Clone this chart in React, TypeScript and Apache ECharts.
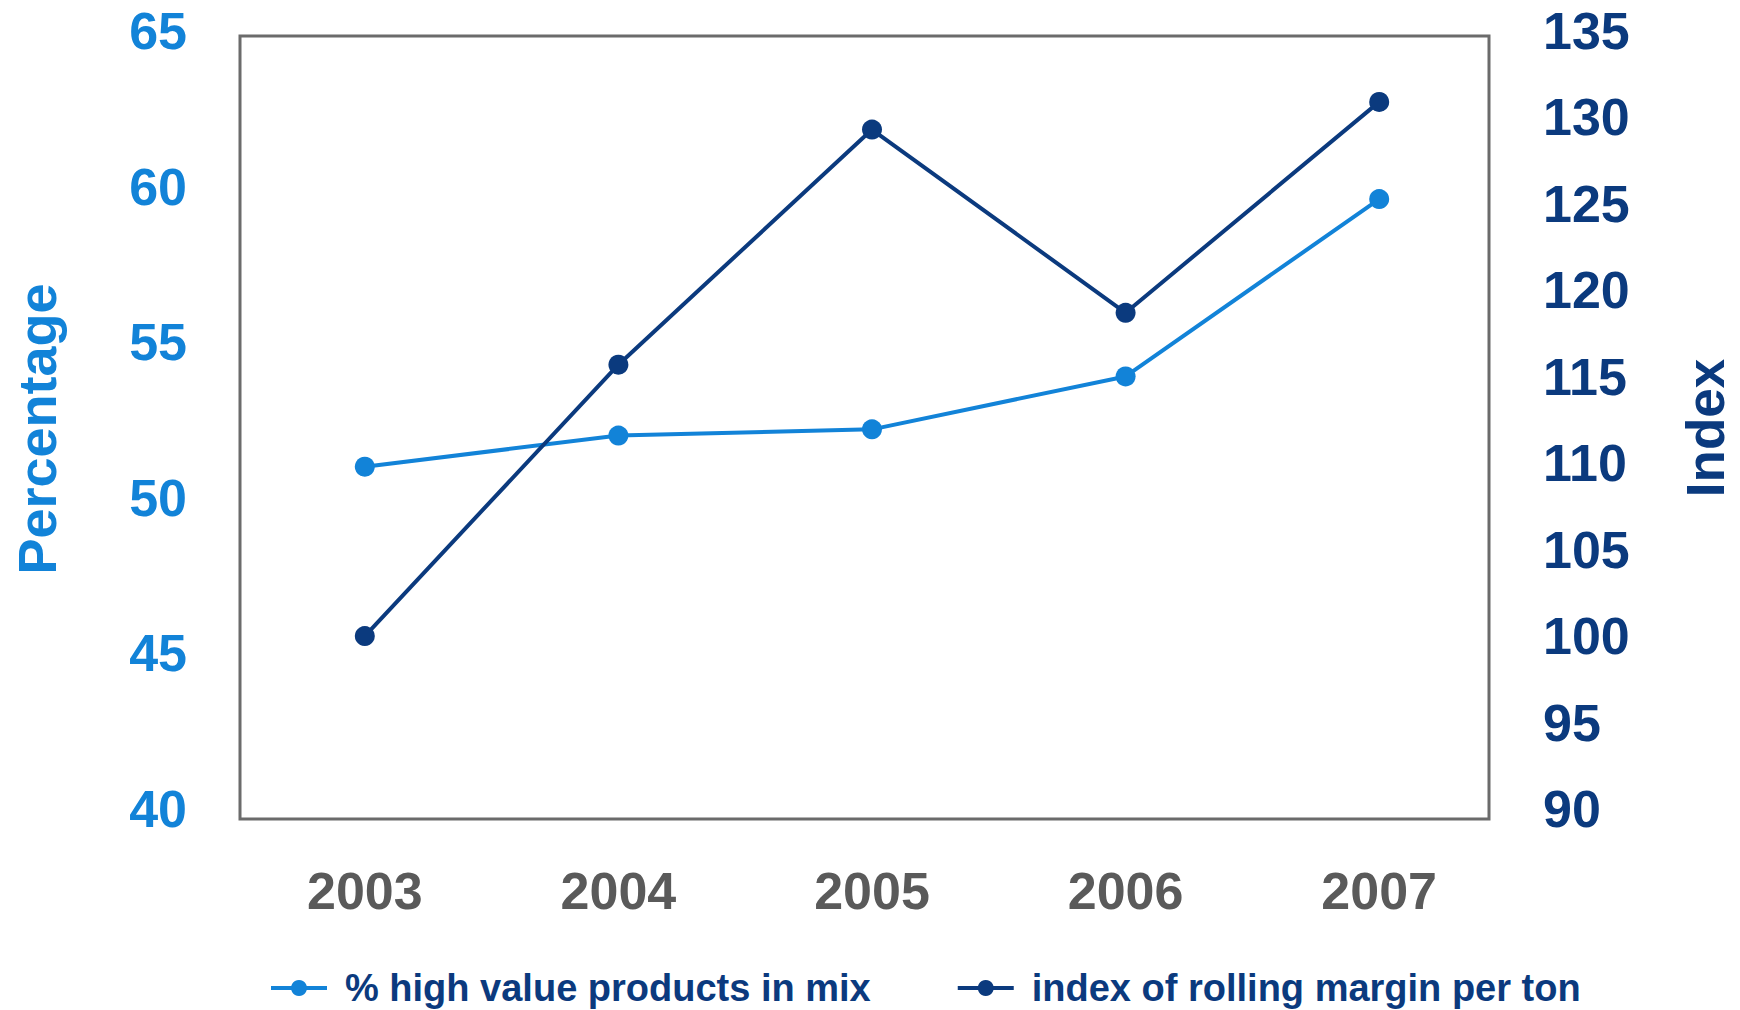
import React, { useEffect, useRef } from "react";
import * as echarts from "echarts";

// Years on the category axis
const years = ["2003", "2004", "2005", "2006", "2007"];
// Share of high value products in the mix (%), left axis
const highValueShare = [51.0, 52.0, 52.2, 53.9, 59.6];
// Index of rolling margin per ton (2003 = 100), right axis
const marginIndex = [100, 115.7, 129.3, 118.7, 130.9];

const seriesNames = ["% high value products in mix", "index of rolling margin per ton"];

const LIGHT = "#1283d8";
const DARK = "#0b3a7e";
const GREY = "#5a5a5a";
const FONT = "Liberation Sans, Arial, sans-serif";

export default function App() {
  const ref = useRef<HTMLDivElement>(null);

  useEffect(() => {
    if (!ref.current) return;
    const chart = echarts.init(ref.current, undefined, { renderer: "svg" });
    chart.setOption({
      animation: false,
      backgroundColor: "#ffffff",
      textStyle: { fontFamily: FONT },
      grid: { left: 238, right: 232, top: 31, bottom: 201, containLabel: false },
      graphic: [
        {
          type: "rect",
          shape: { x: 240, y: 36, width: 1249, height: 783 },
          style: { fill: "none", stroke: "#6b6b6b", lineWidth: 3 },
          silent: true,
          z: 0,
        },
      ],
      legend: {
        data: seriesNames,
        left: 269,
        top: 969,
        padding: 0,
        itemWidth: 56,
        itemHeight: 20,
        itemGap: 85,
        lineStyle: { width: 4 },
        textStyle: {
          color: DARK,
          fontSize: 38,
          lineHeight: 38,
          fontWeight: "bold",
          fontFamily: FONT,
          padding: [0, 0, 0, 13],
        },
      },
      xAxis: {
        type: "category",
        data: years,
        boundaryGap: true,
        axisLine: { show: false },
        axisTick: { show: false },
        splitLine: { show: false },
        axisLabel: {
          color: GREY,
          fontSize: 52,
          fontWeight: "bold",
          fontFamily: FONT,
          margin: 56,
        },
      },
      yAxis: [
        {
          type: "value",
          position: "left",
          min: 40,
          max: 65,
          interval: 5,
          name: "Percentage",
          nameLocation: "middle",
          nameRotate: 90,
          nameGap: 174,
          nameTextStyle: {
            color: LIGHT,
            fontSize: 54,
            fontWeight: "bold",
            fontFamily: FONT,
            padding: [0, 18, 0, 0],
          },
          axisLine: { show: false },
          axisTick: { show: false },
          splitLine: { show: false },
          axisLabel: {
            color: LIGHT,
            fontSize: 52,
            fontWeight: "bold",
            fontFamily: FONT,
            margin: 51,
          },
        },
        {
          type: "value",
          position: "right",
          min: 90,
          max: 135,
          interval: 5,
          name: "Index",
          nameLocation: "middle",
          nameRotate: 90,
          nameGap: 173,
          nameTextStyle: {
            color: DARK,
            fontSize: 53,
            fontWeight: "bold",
            fontFamily: FONT,
            padding: [0, 16, 0, 0],
          },
          axisLine: { show: false },
          axisTick: { show: false },
          splitLine: { show: false },
          axisLabel: {
            color: DARK,
            fontSize: 52,
            fontWeight: "bold",
            fontFamily: FONT,
            margin: 37,
          },
        },
      ],
      series: [
        {
          name: seriesNames[0],
          type: "line",
          yAxisIndex: 0,
          data: highValueShare,
          symbol: "circle",
          symbolSize: 20,
          lineStyle: { color: LIGHT, width: 4 },
          itemStyle: { color: LIGHT },
          z: 3,
        },
        {
          name: seriesNames[1],
          type: "line",
          yAxisIndex: 1,
          data: marginIndex,
          symbol: "circle",
          symbolSize: 20,
          lineStyle: { color: DARK, width: 4 },
          itemStyle: { color: DARK },
          z: 4,
        },
      ],
    });
    return () => chart.dispose();
  }, []);

  return (
    <div
      ref={ref}
      style={{ position: "absolute", left: 0, top: 0, width: 1740, height: 1010 }}
    />
  );
}
